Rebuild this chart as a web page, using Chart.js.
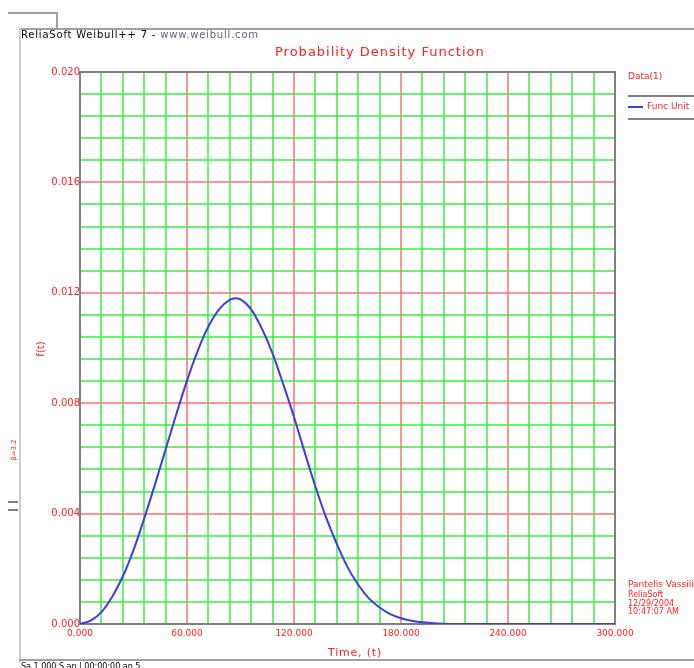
<!DOCTYPE html>
<html>
<head>
<meta charset="utf-8">
<script src="https://cdn.jsdelivr.net/npm/chart.js@4.4.1/dist/chart.umd.min.js"></script>
<style>
  html, body { margin: 0; padding: 0; background: #fff; }
  body { width: 694px; height: 668px; position: relative; overflow: hidden; font-family: "DejaVu Sans", sans-serif; }
  #c { position: absolute; left: 0; top: 0; }
  .t { position: absolute; white-space: nowrap; line-height: 1; }
  .red { color: #ff2020; }
  .hl { position: absolute; background: #a0a0a0; }
</style>
</head>
<body>
<canvas id="c" width="694" height="668"></canvas>

<!-- window frame pieces -->
<div class="hl" style="left:8px;top:12px;width:50px;height:2px;"></div>
<div class="hl" style="left:56px;top:12px;width:2px;height:18px;"></div>
<div class="hl" style="left:19px;top:28px;width:675px;height:2px;"></div>
<div class="hl" style="left:19px;top:28px;width:2px;height:634px;background:#d0d0d0;"></div>
<div class="hl" style="left:19px;top:659px;width:675px;height:2px;"></div>
<div class="hl" style="left:8px;top:501px;width:10px;height:2px;background:#808080;"></div>
<div class="hl" style="left:8px;top:509px;width:10px;height:2px;background:#808080;"></div>

<div class="t" style="left:21px;top:30px;font-size:10px;letter-spacing:0.8px;color:#000;">ReliaSoft Weibull++ 7 - <span style="color:#606080;">www.weibull.com</span></div>
<div class="t red" id="title" style="left:275px;top:45px;font-size:13px;letter-spacing:1px;">Probability Density Function</div>
<div class="t red" style="left:33px;top:349px;font-size:10px;transform:translate(0,-50%) rotate(-90deg);transform-origin:center;">f(t)</div>
<div class="t red" style="left:328px;top:647px;font-size:11px;letter-spacing:0.8px;">Time, (t)</div>
<div class="t red" style="left:4px;top:450px;font-size:7px;transform:translate(0,-50%) rotate(-90deg);">β=3.2</div>

<div class="t red" style="left:628px;top:72px;font-size:9px;">Data(1)</div>
<div class="hl" style="left:628px;top:95px;width:66px;height:2px;background:#808080;"></div>
<div class="hl" style="left:628px;top:106px;width:15px;height:2px;background:#4040e0;"></div>
<div class="t red" style="left:647px;top:102px;font-size:9px;">Func Unit</div>
<div class="hl" style="left:628px;top:118px;width:66px;height:2px;background:#808080;"></div>

<div class="t red" style="left:628px;top:580px;font-size:9px;">Pantelis Vassiliou</div>
<div class="t red" style="left:628px;top:591px;font-size:8px;">ReliaSoft</div>
<div class="t red" style="left:628px;top:600px;font-size:8px;">12/29/2004</div>
<div class="t red" style="left:628px;top:608px;font-size:8px;">10:47:07 AM</div>

<div class="t" style="left:21px;top:663px;font-size:8px;color:#000;">Sa 1.000 S an | 00:00:00 an 5</div>

<script>
// ---- data ----
const timeValues = [0, 6, 12, 18, 24, 30, 36, 42, 48, 54, 60, 66, 72, 78, 84, 87, 90, 96, 102, 108, 114, 120, 126, 132, 138, 144, 150, 156, 162, 168, 174, 180, 186, 192, 198, 204, 210, 240, 270, 300];
const pdfValues  = [0, 0.00012, 0.00043, 0.00098, 0.00172, 0.00268, 0.00382, 0.00505, 0.00632, 0.00760, 0.00882, 0.00990, 0.01078, 0.01140, 0.01174, 0.01180, 0.01176, 0.01140, 0.01070, 0.00980, 0.00868, 0.00750, 0.00622, 0.00498, 0.00386, 0.00290, 0.00206, 0.00142, 0.00093, 0.00060, 0.00036, 0.00021, 0.00012, 0.00006, 0.00003, 0.00001, 0, 0, 0, 0];

const xTickValues = [0, 60, 120, 180, 240, 300];
const xTickLabels = ["0.000", "60.000", "120.000", "180.000", "240.000", "300.000"];
const yTickValues = [0, 0.004, 0.008, 0.012, 0.016, 0.020];
const yTickLabels = ["0.000", "0.004", "0.008", "0.012", "0.016", "0.020"];
const xMinorStep = 12;
const yMinorStep = 0.0008;

const RED_GRID = 'rgba(255,110,110,0.75)';
const GREEN_GRID = 'rgba(60,235,60,0.75)';
const LABEL_RED = '#ff2020';

function isMajor(value, majors) {
  return majors.some(m => Math.abs(m - value) < 1e-9);
}

const frame = {
  id: 'frame',
  beforeDatasetsDraw(chart) {
    const a = chart.chartArea, ctx = chart.ctx;
    ctx.save();
    ctx.strokeStyle = '#808080';
    ctx.lineWidth = 2;
    ctx.strokeRect(a.left, a.top, a.right - a.left, a.bottom - a.top);
    ctx.restore();
  }
};

new Chart(document.getElementById('c'), {
  type: 'line',
  data: {
    datasets: [{
      data: timeValues.map((t, i) => ({ x: t, y: pdfValues[i] })),
      borderColor: '#3c3ce6',
      borderWidth: 2,
      pointRadius: 0,
      fill: false,
      cubicInterpolationMode: 'monotone'
    }]
  },
  plugins: [frame],
  options: {
    responsive: false,
    animation: false,
    devicePixelRatio: 1,
    layout: { padding: { left: 0, top: 72, right: 79, bottom: 24 } },
    plugins: { legend: { display: false }, title: { display: false }, tooltip: { enabled: false } },
    scales: {
      x: {
        type: 'linear', min: 0, max: 300,
        afterBuildTicks: s => {
          const ticks = [];
          for (let i = 0; i * xMinorStep <= 300 + 1e-9; i++) ticks.push({ value: i * xMinorStep });
          s.ticks = ticks;
        },
        afterFit: s => { s.height = 20; },
        ticks: {
          autoSkip: false, maxRotation: 0, padding: 4,
          color: LABEL_RED,
          font: { family: 'DejaVu Sans', size: 9 },
          callback: v => { const k = xTickValues.findIndex(m => Math.abs(m - v) < 1e-9); return k >= 0 ? xTickLabels[k] : ''; }
        },
        grid: {
          drawTicks: false,
          lineWidth: 2,
          color: c => (c.tick && isMajor(c.tick.value, xTickValues)) ? RED_GRID : GREEN_GRID
        },
        border: { display: true, color: '#808080', width: 2 }
      },
      y: {
        type: 'linear', min: 0, max: 0.020,
        afterBuildTicks: s => {
          const ticks = [];
          for (let i = 0; i <= 25; i++) ticks.push({ value: i * yMinorStep });
          s.ticks = ticks;
        },
        afterFit: s => { s.width = 80; },
        ticks: {
          autoSkip: false, padding: 0,
          color: LABEL_RED,
          font: { family: 'DejaVu Sans', size: 10 },
          callback: v => { const k = yTickValues.findIndex(m => Math.abs(m - v) < 1e-9); return k >= 0 ? yTickLabels[k] : ''; }
        },
        grid: {
          drawTicks: false,
          lineWidth: 2,
          color: c => (c.tick && isMajor(c.tick.value, yTickValues)) ? RED_GRID : GREEN_GRID
        },
        border: { display: true, color: '#808080', width: 2 }
      }
    }
  }
});
</script>
</body>
</html>
